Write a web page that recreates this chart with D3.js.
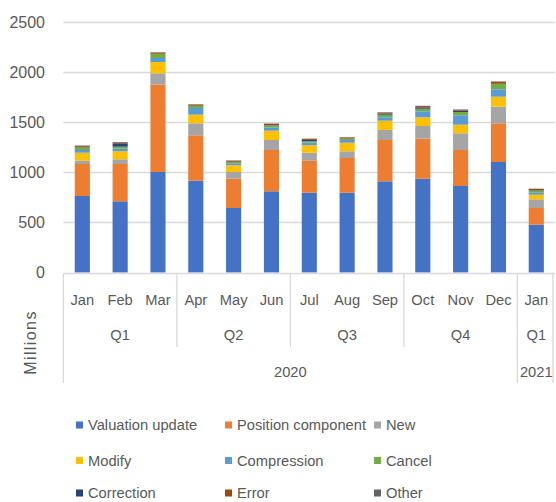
<!DOCTYPE html>
<html><head><meta charset="utf-8">
<script src="https://cdn.jsdelivr.net/npm/d3@7"></script>
<style>
html,body{margin:0;padding:0;background:#fff;}
svg{display:block;font-family:"Liberation Sans",Arial,sans-serif;}
</style></head>
<body><svg id="chart" width="556" height="502"></svg>
<script>
const months = ["Jan","Feb","Mar","Apr","May","Jun","Jul","Aug","Sep","Oct","Nov","Dec","Jan"];
const quarters = ["Q1","Q2","Q3","Q4","Q1"];
const quarterSpans = [3,3,3,3,1];
const years = ["2020","2021"];
const yearSpans = [12,1];
const seriesNames = ["Valuation update","Position component","New","Modify","Compression","Cancel","Correction","Error","Other"];
const seriesColors = ["#4472C4","#ED7D31","#A5A5A5","#FFC000","#5B9BD5","#70AD47","#264478","#9E480E","#636363"];
const valuationUpdate   = [765,712,1005,918,645,812,798,798,912,938,865,1105,478];
const positionComponent = [320,373,873,454,293,413,320,347,413,400,360,387,167];
const newTrades         = [33,47,114,120,67,100,80,67,100,127,167,166,87];
const modify            = [80,80,113,86,67,93,74,86,93,87,86,100,46];
const compression       = [27,26,40,67,20,34,26,27,34,60,94,74,20];
const cancel            = [27,20,40,20,13,20,14,13,26,26,33,53,20];
const correction        = [5,34,3,3,3,3,14,3,12,14,13,3,5];
const error             = [10,10,12,12,10,12,10,10,10,12,10,20,12];
const other             = [3,3,3,3,3,3,3,3,3,3,3,3,3];
const yTicks = [0,500,1000,1500,2000,2500];
const yLabel = "Millions";

(function(){
const seriesValues = [valuationUpdate,positionComponent,newTrades,modify,compression,cancel,correction,error,other];
const rows = months.map((m,i)=>{const r={idx:i}; seriesNames.forEach((s,j)=>r[s]=seriesValues[j][i]); return r;});

const svg = d3.select("#chart");
const pLeft=63.4, pRight=555.2, pTop=22.5, pBottom=272.5;
const x = d3.scaleBand().domain(d3.range(months.length)).range([pLeft,pRight]).padding(0);
const y = d3.scaleLinear().domain([0,2500]).range([pBottom,pTop]);
const textColor="#595959";
const lineColor="#d9d9d9";
const fs = 14.7;

svg.append("g").selectAll("line").data(yTicks.filter(t=>t>0)).join("line")
  .attr("x1",pLeft).attr("x2",pRight).attr("y1",d=>y(d)).attr("y2",d=>y(d))
  .attr("stroke",lineColor).attr("stroke-width",1.3);
svg.append("g").selectAll("text").data(yTicks).join("text")
  .attr("x",45).attr("y",d=>y(d)).attr("text-anchor","end").attr("dominant-baseline","central")
  .attr("fill",textColor).attr("font-size",16).text(d=>d);

const stack = d3.stack().keys(seriesNames)(rows);
const bw = x.bandwidth()*0.4;
svg.append("g").selectAll("g").data(stack).join("g")
  .attr("fill",(d,i)=>seriesColors[i])
  .selectAll("rect").data(d=>d).join("rect")
  .attr("x",d=>x(d.data.idx)+(x.bandwidth()-bw)/2)
  .attr("width",bw)
  .attr("y",d=>y(d[1]))
  .attr("height",d=>Math.max(0,y(d[0])-y(d[1])));

const axisY = 273.5;
svg.append("line").attr("x1",pLeft).attr("x2",pRight).attr("y1",axisY).attr("y2",axisY)
  .attr("stroke",lineColor).attr("stroke-width",1.3);

svg.append("g").selectAll("text").data(months).join("text")
  .attr("x",(d,i)=>x(i)+x.bandwidth()/2).attr("y",299.5).attr("text-anchor","middle")
  .attr("dominant-baseline","central").attr("fill",textColor).attr("font-size",fs).text(d=>d);

let qStart=0;
const qGroups = quarters.map((q,i)=>{const g={label:q,start:qStart,span:quarterSpans[i]}; qStart+=quarterSpans[i]; return g;});
svg.append("g").selectAll("text").data(qGroups).join("text")
  .attr("x",d=>(x(d.start)+x(d.start+d.span-1)+x.bandwidth())/2).attr("y",335)
  .attr("text-anchor","middle").attr("dominant-baseline","central")
  .attr("fill",textColor).attr("font-size",fs).text(d=>d.label);
let yStart=0;
const yGroups = years.map((yy,i)=>{const g={label:yy,start:yStart,span:yearSpans[i]}; yStart+=yearSpans[i]; return g;});
const yearBounds = new Set(yGroups.map(g=>g.start));
svg.append("g").selectAll("line").data(qGroups.filter(g=>!yearBounds.has(g.start))).join("line")
  .attr("x1",d=>x(d.start)).attr("x2",d=>x(d.start)).attr("y1",axisY).attr("y2",347)
  .attr("stroke",lineColor).attr("stroke-width",1.3);
const yearLineX = yGroups.map(g=>x(g.start)).concat([pRight-2.2]);
svg.append("g").selectAll("line").data(yearLineX).join("line")
  .attr("x1",d=>d).attr("x2",d=>d).attr("y1",axisY).attr("y2",383)
  .attr("stroke",lineColor).attr("stroke-width",1.3);
svg.append("g").selectAll("text").data(yGroups).join("text")
  .attr("x",d=>(x(d.start)+x(d.start+d.span-1)+x.bandwidth())/2).attr("y",372)
  .attr("text-anchor","middle").attr("dominant-baseline","central")
  .attr("fill",textColor).attr("font-size",fs).text(d=>d.label);

svg.append("text").attr("transform","translate(30,342.5) rotate(-90)")
  .attr("text-anchor","middle").attr("dominant-baseline","central")
  .attr("fill",textColor).attr("font-size",16).attr("letter-spacing",1.4).text(yLabel);

const colX=[76,225,374], rowY=[425,460.5,493];
const lg = svg.append("g").selectAll("g").data(seriesNames).join("g")
  .attr("transform",(d,i)=>`translate(${colX[i%3]},${rowY[Math.floor(i/3)]})`);
lg.append("rect").attr("x",0).attr("y",-3.5).attr("width",7).attr("height",7).attr("fill",(d,i)=>seriesColors[i]);
lg.append("text").attr("x",12).attr("y",0).attr("dominant-baseline","central")
  .attr("fill",textColor).attr("font-size",fs).text(d=>d);
})();
</script></body></html>
